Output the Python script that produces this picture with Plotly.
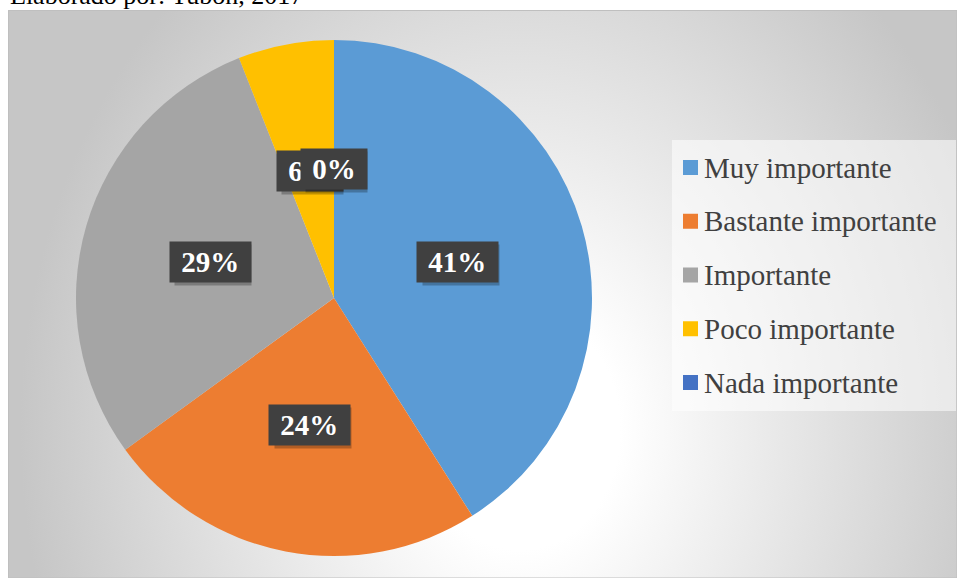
import math
import base64
import plotly.graph_objects as go

# ------------------------------ data ------------------------------
labels = ["Muy importante", "Bastante importante", "Importante", "Poco importante", "Nada importante"]
values = [41, 24, 29, 6, 0]
colors = ["#5B9BD5", "#ED7D31", "#A5A5A5", "#FFC000", "#4472C4"]
source_note = "Elaborado por: Tubón, 2017"

W, H = 957, 578
SERIF = "Liberation Serif, Times New Roman, serif"

# pie placement in pixels
cx, cy, r = 334, 298, 258
dom_x = [(cx - r) / W, (cx + r) / W]
dom_y = [1 - (cy + r) / H, 1 - (cy - r) / H]

def px(x):
    return x / W

def py(y):
    return 1 - y / H

# background gradient (chart area) as svg image
svg = """<svg xmlns="http://www.w3.org/2000/svg" width="949" height="568">
<defs><radialGradient id="g" gradientUnits="userSpaceOnUse" cx="512" cy="420" r="500"
gradientTransform="translate(512 420) scale(1 1.2) translate(-512 -420)">
<stop offset="0.2" stop-color="#ffffff"/><stop offset="1" stop-color="#c6c6c6"/>
</radialGradient></defs>
<rect width="949" height="568" fill="url(#g)"/></svg>"""
bg_src = "data:image/svg+xml;base64," + base64.b64encode(svg.encode()).decode()

fig = go.Figure()
fig.add_trace(go.Pie(labels=labels, values=values, sort=False, direction="clockwise",
                     rotation=0, marker=dict(colors=colors, line=dict(width=0)),
                     textinfo="none", showlegend=False, domain=dict(x=dom_x, y=dom_y)))

annotations = []
shapes = []

# data labels: boxes at half radius of each slice
total = sum(values)
cum = 0
boxes = []
for v in values:
    ang = 2 * math.pi * (cum + v / 2) / total
    cum += v
    lx = cx + 0.5 * r * math.sin(ang)
    ly = cy - 0.5 * r * math.cos(ang)
    boxes.append((lx, ly, f"&nbsp;{v}%&nbsp;"))

for lx, ly, t in boxes:
    # shadow
    annotations.append(dict(x=px(lx), y=py(ly), xref="paper", yref="paper", text=t,
                            showarrow=False, xshift=3, yshift=-3, borderpad=4,
                            xanchor="center", yanchor="middle",
                            bgcolor="rgba(0,0,0,0.25)",
                            font=dict(family=SERIF, size=29, color="rgba(0,0,0,0)")))
    annotations.append(dict(x=px(lx), y=py(ly), xref="paper", yref="paper", text="<b>" + t + "</b>",
                            showarrow=False, borderpad=4, bgcolor="#404040",
                            xanchor="center", yanchor="middle",
                            font=dict(family=SERIF, size=29, color="white")))

# legend box
shapes.append(dict(type="rect", xref="paper", yref="paper", x0=px(672), x1=px(956),
                   y0=py(411), y1=py(140), fillcolor="rgba(255,255,255,0.55)",
                   line=dict(width=0), layer="below"))
for i, (lab, col) in enumerate(zip(labels, colors)):
    yc = 167.5 + i * 53.75
    shapes.append(dict(type="rect", xref="paper", yref="paper", x0=px(683), x1=px(698),
                       y0=py(yc + 7.5), y1=py(yc - 7.5), fillcolor=col, line=dict(width=0)))
    annotations.append(dict(x=px(702), y=py(yc), xref="paper", yref="paper", text=lab,
                            showarrow=False, xanchor="left", yanchor="middle",
                            font=dict(family=SERIF, size=29, color="#404040")))

# chart frame border
shapes.append(dict(type="rect", xref="paper", yref="paper", x0=px(8.5), x1=px(957),
                   y0=py(578), y1=py(10.5), line=dict(color="#bfbfbf", width=1),
                   fillcolor="rgba(0,0,0,0)"))

# source note, cut off at top
annotations.append(dict(x=px(8), y=py(12), xref="paper", yref="paper", text=source_note,
                        showarrow=False, xanchor="left", yanchor="bottom",
                        font=dict(family=SERIF, size=26, color="black")))

fig.update_layout(width=W, height=H, margin=dict(l=0, r=0, t=0, b=0),
                  paper_bgcolor="white", plot_bgcolor="white",
                  annotations=annotations, shapes=shapes,
                  images=[dict(source=bg_src, xref="paper", yref="paper", x=px(8), y=py(10),
                               sizex=949 / W, sizey=568 / H, sizing="stretch",
                               xanchor="left", yanchor="top", layer="below")])

fig.write_html("out.html", config={"displayModeBar": False},
               post_script="document.body.style.margin='0';")
